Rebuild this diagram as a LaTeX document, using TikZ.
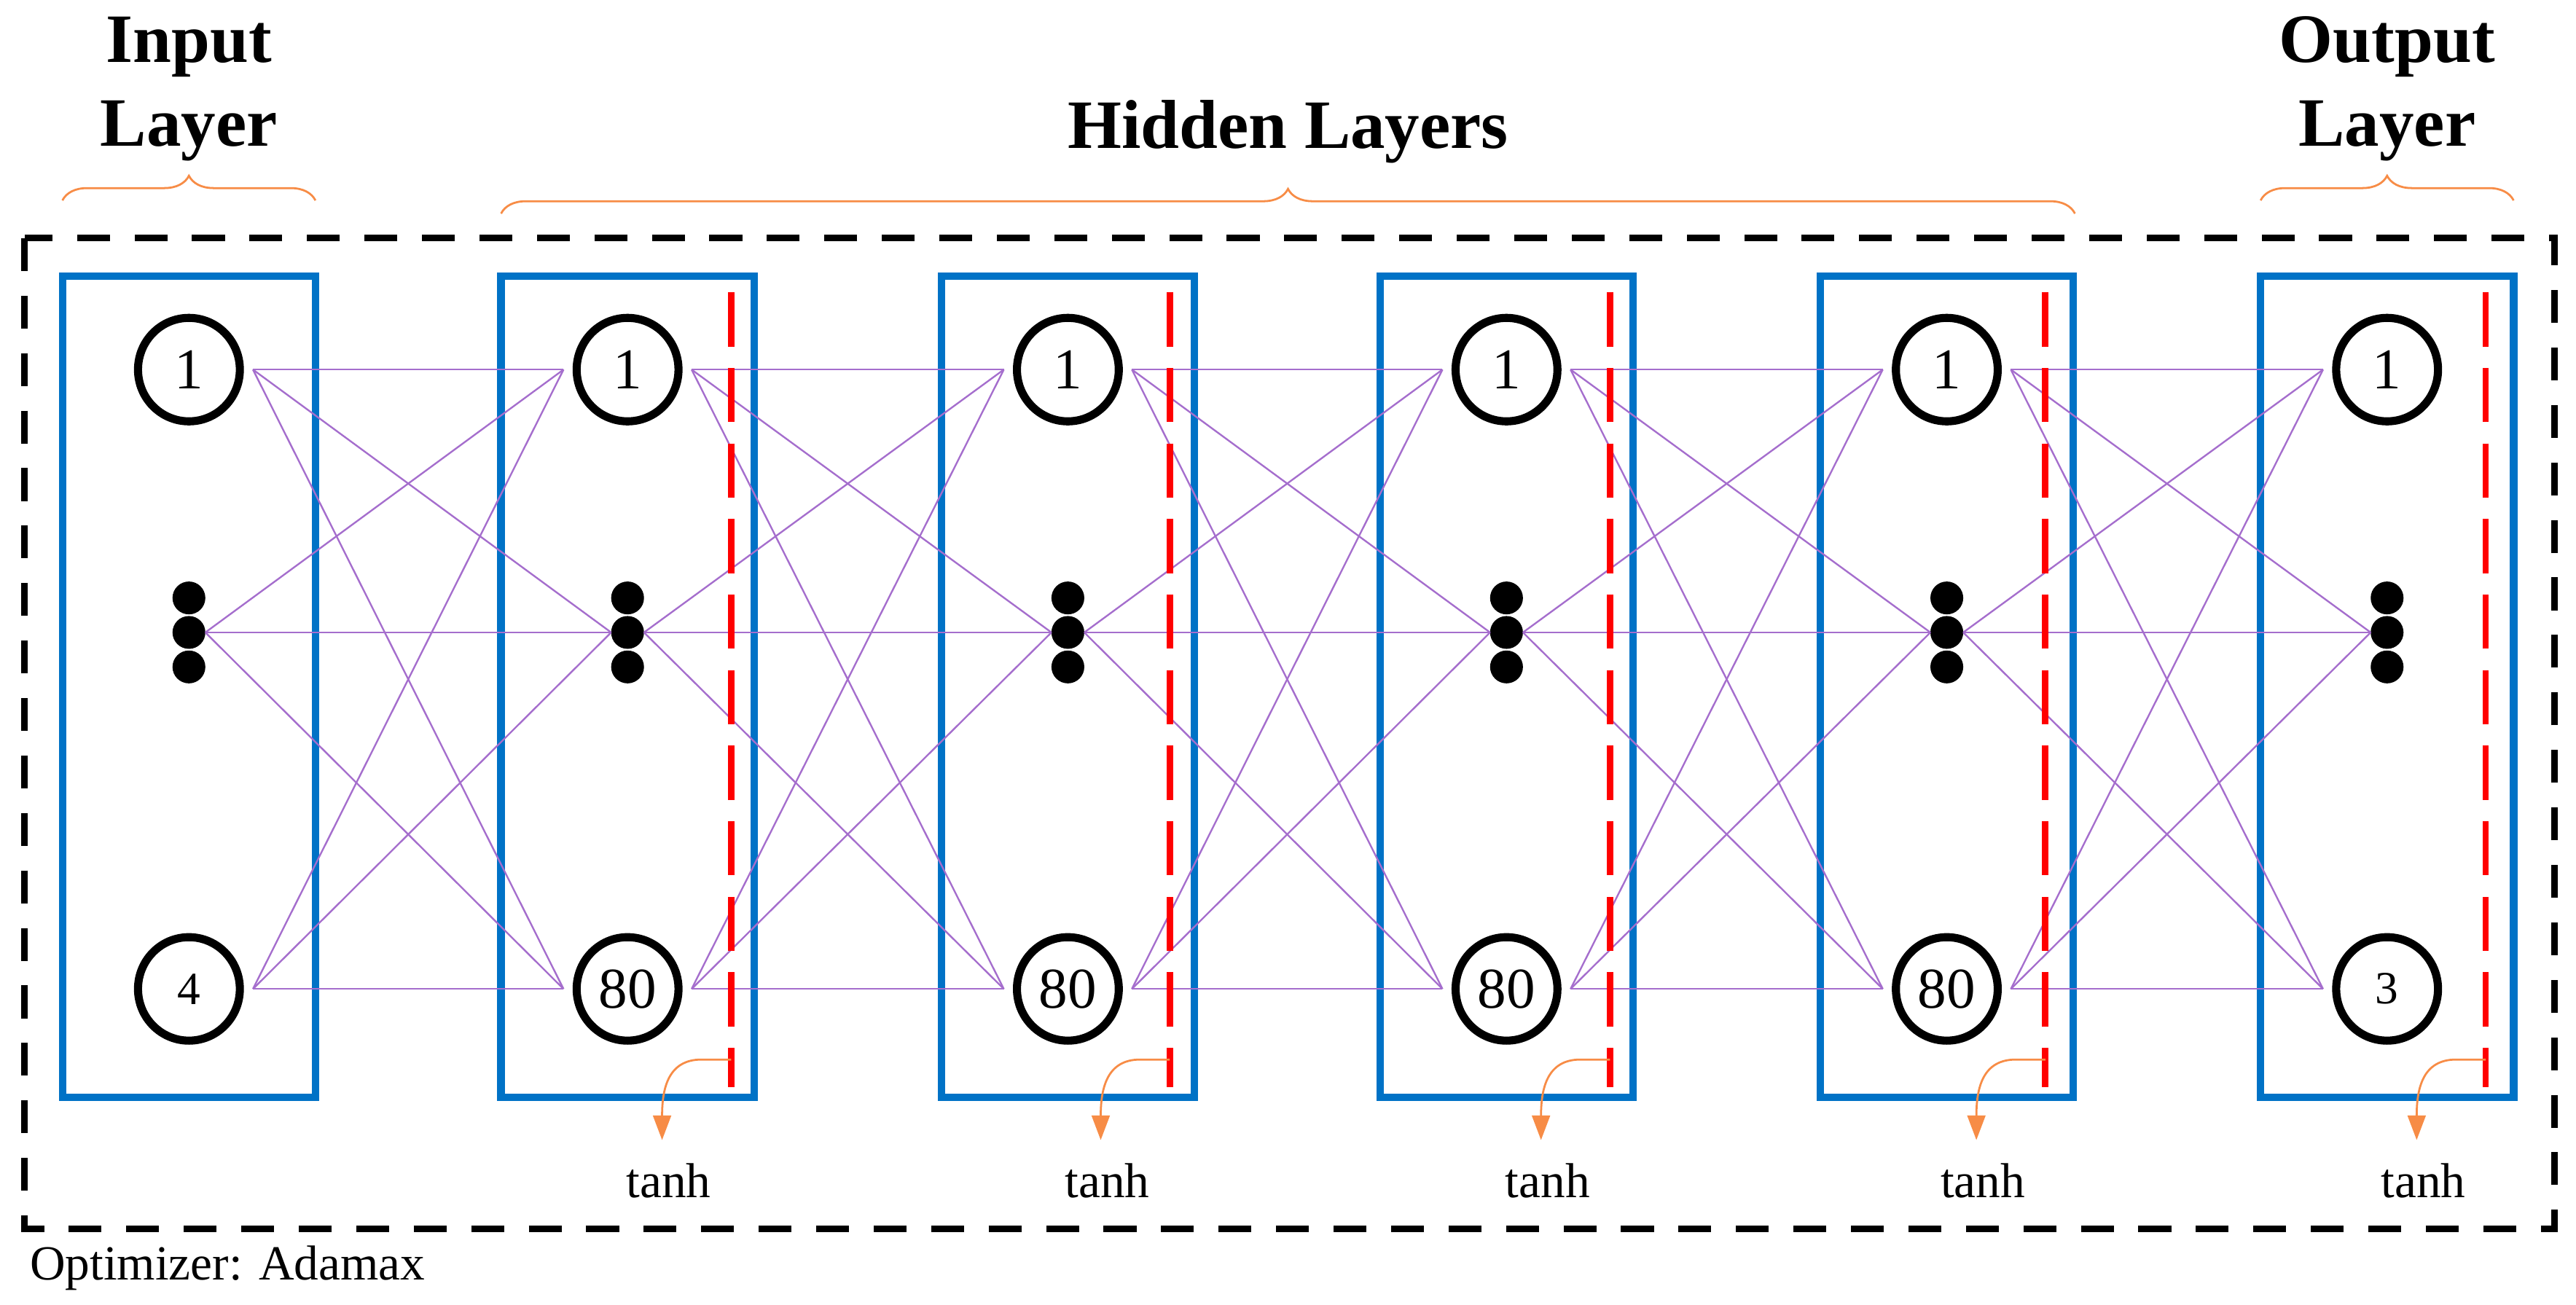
\documentclass[tikz,border=0pt]{standalone}
\usepackage{fontspec}
\setmainfont{Liberation Serif}
\usetikzlibrary{decorations.pathreplacing,arrows.meta,shapes.geometric}
\definecolor{boxblue}{RGB}{0,114,198}
\definecolor{conn}{RGB}{165,110,205}
\definecolor{brace}{RGB}{247,140,70}
\begin{document}
\begin{tikzpicture}[x=0.02cm,y=-0.02cm,
  neuron/.style={draw=black,line width=2.8pt,ellipse,minimum width=1.24cm,minimum height=1.26cm,inner sep=0pt,outer sep=0.16cm,font=\fontsize{20}{20}\selectfont},
  dotsn/.style={minimum width=0.4cm,minimum height=1.2cm,inner sep=0pt,outer sep=0pt},
  lay/.style={draw=boxblue,line width=2.6pt},
  link/.style={draw=conn,line width=0.6pt},
  act/.style={draw=red,line width=2.2pt,dash pattern=on 0.66cm off 0.26cm},
  arr/.style={draw=brace,line width=0.7pt,-{Triangle[length=0.3cm,width=0.22cm]}},
  brc/.style={draw=brace,line width=0.7pt,decorate,decoration={brace,amplitude=0.3cm}},
  title/.style={font=\fontsize{24}{29}\selectfont\bfseries,align=center},
  lbl/.style={font=\fontsize{17}{17}\selectfont}]
\useasboundingbox (0,0) rectangle (1568,794);
\draw[line width=2.3pt,dash pattern=on 0.4cm off 0.3cm] (15,145) rectangle (1555,748);
\foreach \i/\x/\b/\s in {1/115/4/16,2/382/80/20,3/650/80/20,4/917/80/20,5/1185/80/20,6/1453/3/16}{
  \draw[lay] (\x-77,168) rectangle (\x+77,668);
  \node[neuron] (t\i) at (\x,225) {1};
  \node[dotsn] (m\i) at (\x,385) {};
  \node[neuron,font=\fontsize{\s}{20}\selectfont] (b\i) at (\x,602) {\b};
  \foreach \yy in {364,385,406} \fill (\x,\yy) circle (0.2cm);
}
\foreach \i/\j in {1/2,2/3,3/4,4/5,5/6}{
  \foreach \a in {t,m,b}{
    \foreach \c in {t,m,b}{
      \draw[link] (\a\i.east) -- (\c\j.west);
    }
  }
}
\foreach \i/\x in {2/445,3/712,4/980,5/1245,6/1513}{
  \coordinate (r\i) at (\x,645);
  \coordinate (a\i) at (\x-42,694);
  \draw[act] (\x,178) -- (\x,662);
  \draw[arr] (r\i) -- ++(-18,0) .. controls (\x-38,645) and (\x-42,662) .. (a\i);
  \node[lbl,anchor=north] (th\i) at (\x-38,702) {tanh};
}
\node[title] (in) at (115,54) {Input\\Layer};
\node[title] (hid) at (784,80) {Hidden Layers};
\node[title] (out) at (1453,54) {Output\\Layer};
\draw[brc] (38,122) -- (192,122);
\draw[brc] (305,130) -- (1263,130);
\draw[brc] (1376,122) -- (1530,122);
\node[lbl,anchor=west] (opt) at (12,772) {Optimizer: Adamax};
\end{tikzpicture}
\end{document}
